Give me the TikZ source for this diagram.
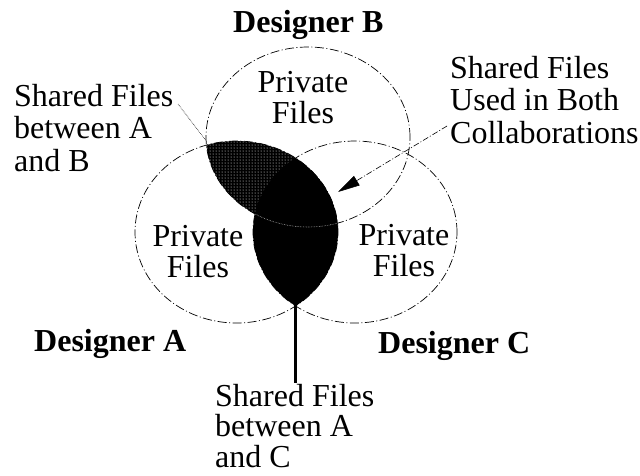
\documentclass[tikz,border=0pt]{standalone}
\usepackage{fontspec}
\setmainfont{Liberation Serif}
\usetikzlibrary{patterns,arrows.meta}
\tikzset{
  lbl/.style={inner sep=0pt, font=\fontsize{32}{32.5}\selectfont, align=left},
  lblc/.style={inner sep=0pt, font=\fontsize{32}{30.5}\selectfont, align=center},
  ttl/.style={inner sep=0pt, font=\fontsize{32}{32}\selectfont\bfseries},
  outline/.style={line width=0.7pt, dash pattern=on 9pt off 2.5pt on 1pt off 2.5pt},
  leader/.style={line width=0.6pt, densely dotted},
  arrowline/.style={line width=0.6pt, dash pattern=on 6pt off 2pt on 1pt off 2pt, -{Triangle[length=22pt,width=11pt]}},
  thickline/.style={line width=3pt}
}
\def\ellA{(236.5,232) ellipse [x radius=101.5pt, y radius=91pt]}
\def\ellB{(308,137) ellipse [x radius=102pt, y radius=90pt]}
\def\ellC{(355,232) ellipse [x radius=102pt, y radius=91pt]}
\begin{document}
\begin{tikzpicture}[x=1pt,y=-1pt]
\useasboundingbox (0,0) rectangle (640,475);
% shared A and B (hatched)
\begin{scope}
  \clip \ellA;
  \fill[black] \ellB;
  \fill[pattern=dots, pattern color=white] \ellB;
\end{scope}
% shared A and C (solid)
\begin{scope}
  \clip \ellA;
  \fill[black] \ellC;
\end{scope}
% outlines
\draw[outline] \ellA;
\draw[outline] \ellB;
\draw[outline] \ellC;
% faint B border inside dark region
\begin{scope}
  \clip \ellA;
  \clip \ellC;
  \draw[gray!60, line width=0.6pt, densely dotted] \ellB;
\end{scope}
% titles
\node[ttl, anchor=base west] (desB) at (233,32) {Designer B};
\node[ttl, anchor=base west] (desA) at (34,351) {Designer A};
\node[ttl, anchor=base west] (desC) at (378,353) {Designer C};
% private files (anchor = baseline of last line)
\node[lblc, anchor=base] (privB) at (303,123) {Private\\Files};
\node[lblc, anchor=base] (privA) at (198,277) {Private\\Files};
\node[lblc, anchor=base] (privC) at (404,276) {Private\\Files};
% shared labels
\node[lbl, anchor=base west] (shAB) at (14,171) {Shared Files\\between A\\and B};
\node[lbl, anchor=base west] (shBoth) at (450,143) {Shared Files\\Used in Both\\Collaborations};
\node[lblc, anchor=base west, align=left] (shAC) at (215,467) {Shared Files\\between A\\and C};
% connectors
\coordinate (abStart) at (178,104);
\coordinate (abEnd) at (207,142);
\draw[leader] (abStart) -- (abEnd);
\coordinate (bothStart) at (447,126);
\coordinate (bothTip) at (338,192);
\draw[arrowline] (bothStart) -- (bothTip);
\coordinate (acTip) at (295.5,305);
\coordinate (acEnd) at (295.5,383);
\draw[thickline] (acTip) -- (acEnd);
\end{tikzpicture}
\end{document}
